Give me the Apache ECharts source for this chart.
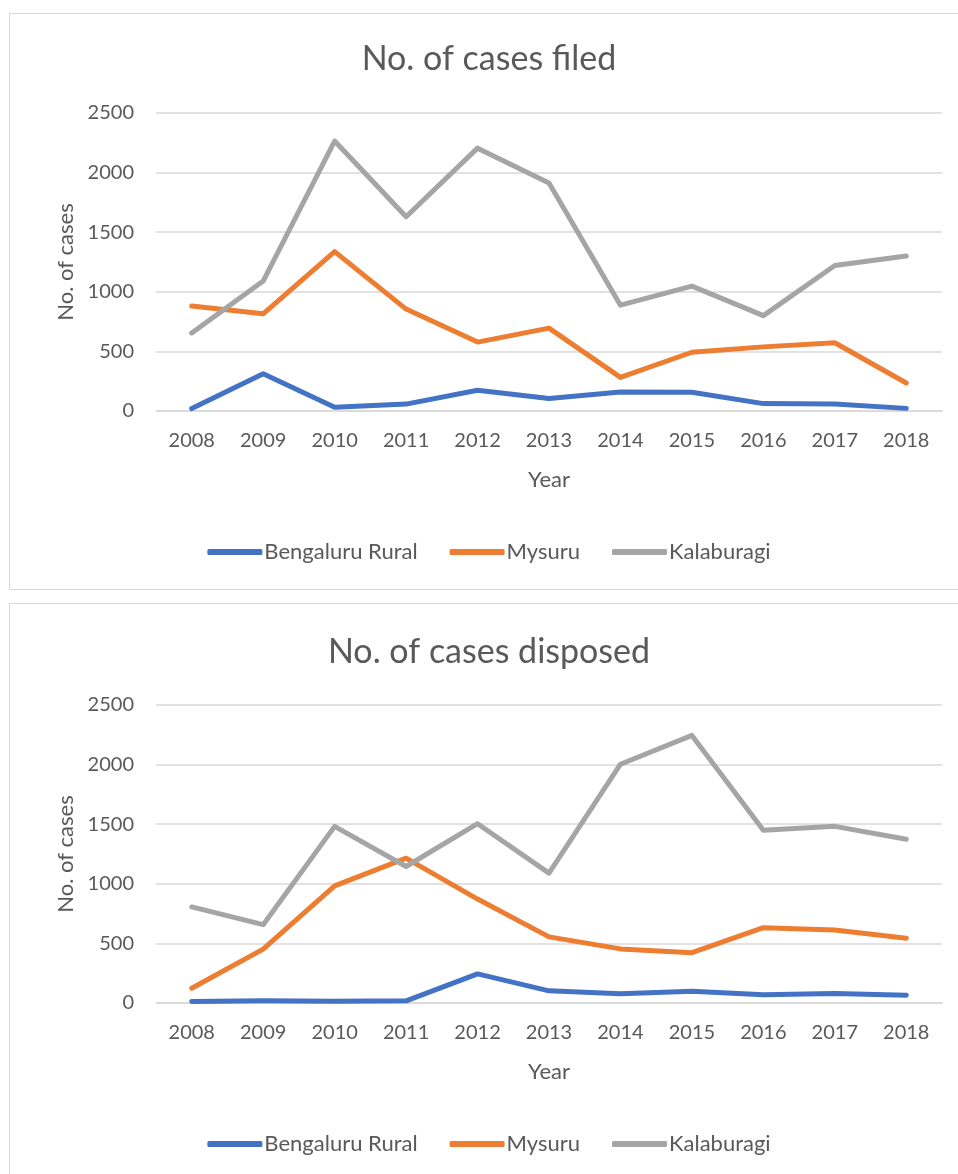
<!DOCTYPE html>
<html lang="en">
<head>
  <meta charset="UTF-8">
  <title>Cases filed / disposed</title>
  <script src="https://cdn.jsdelivr.net/npm/echarts@6/dist/echarts.min.js"></script>
  <style>
    body { margin: 0; background: #fff; overflow: hidden; }
    .box { position: absolute; left: 9px; width: 960px; border: 1.5px solid #d9d9d9; box-sizing: border-box; }
  </style>
</head>
<body>
<div id="filed" class="box" style="top: 13px; height: 577px;"></div>
<div id="disposed" class="box" style="top: 603px; height: 600px;"></div>
<script>
  var years = ['2008', '2009', '2010', '2011', '2012', '2013', '2014', '2015', '2016', '2017', '2018'];
  var seriesNames = ['Bengaluru Rural', 'Mysuru', 'Kalaburagi'];
  var colors = ['#4472c4', '#ed7d31', '#a5a5a5'];

  // No. of cases filed
  var filedBengaluru = [20, 313, 32, 58, 174, 105, 160, 158, 62, 58, 22];
  var filedMysuru = [880, 815, 1337, 855, 578, 695, 282, 493, 538, 573, 235];
  var filedKalaburagi = [655, 1090, 2265, 1630, 2205, 1912, 888, 1048, 800, 1220, 1300];

  // No. of cases disposed
  var dispBengaluru = [12, 18, 15, 18, 244, 102, 78, 98, 70, 80, 66];
  var dispMysuru = [124, 452, 983, 1215, 872, 555, 454, 422, 632, 612, 543];
  var dispKalaburagi = [806, 657, 1482, 1145, 1504, 1090, 2003, 2245, 1449, 1482, 1374];

  var font = 'Lato';
  var textColor = '#595959';

  function makeChart(id, title, values, lay) {
    var chart = echarts.init(document.getElementById(id));
    var series = values.map(function (v, i) {
      return {
        name: seriesNames[i],
        type: 'line',
        data: v,
        symbol: 'none',
        lineStyle: { width: 5, color: colors[i], cap: 'round', join: 'round' },
        itemStyle: { color: colors[i] },
        animation: false
      };
    });
    chart.setOption({
      animation: false,
      title: {
        text: title,
        left: 'center',
        top: lay.titleTop,
        textStyle: { fontFamily: font, fontSize: 34, fontWeight: 'normal', color: textColor }
      },
      legend: {
        data: seriesNames,
        top: lay.legendTop,
        left: 'center',
        itemWidth: 55,
        itemHeight: 6,
        itemGap: 32,
        icon: 'roundRect',
        textStyle: { fontFamily: font, fontSize: 22, color: textColor, padding: [0, 0, 0, -3] }
      },
      grid: { left: 146, width: 786, top: lay.gridTop, height: lay.gridHeight },
      xAxis: {
        type: 'category',
        data: years,
        name: 'Year',
        nameLocation: 'middle',
        nameGap: 58,
        nameTextStyle: { fontFamily: font, fontSize: 22, color: textColor },
        axisLine: { show: true, lineStyle: { color: '#d9d9d9', width: 1.5 } },
        axisTick: { show: false },
        axisLabel: { fontFamily: font, fontSize: 20, color: textColor, margin: 20 }
      },
      yAxis: {
        type: 'value',
        min: 0,
        max: 2500,
        interval: 500,
        name: 'No. of cases',
        nameLocation: 'middle',
        nameGap: 79,
        nameRotate: 90,
        nameTextStyle: { fontFamily: font, fontSize: 22, color: textColor },
        axisLine: { show: false },
        axisTick: { show: false },
        splitLine: { lineStyle: { color: '#d9d9d9', width: 1.5 } },
        axisLabel: {
          fontFamily: font, fontSize: 20, color: textColor, margin: 22,
          formatter: function (v) { return String(v); }
        }
      },
      series: series
    });
  }

  makeChart('filed', 'No. of cases filed', [filedBengaluru, filedMysuru, filedKalaburagi],
    { titleTop: 23, gridTop: 99, gridHeight: 298, legendTop: 522 });
  makeChart('disposed', 'No. of cases disposed', [dispBengaluru, dispMysuru, dispKalaburagi],
    { titleTop: 26, gridTop: 101, gridHeight: 298, legendTop: 524 });
</script>
</body>
</html>
